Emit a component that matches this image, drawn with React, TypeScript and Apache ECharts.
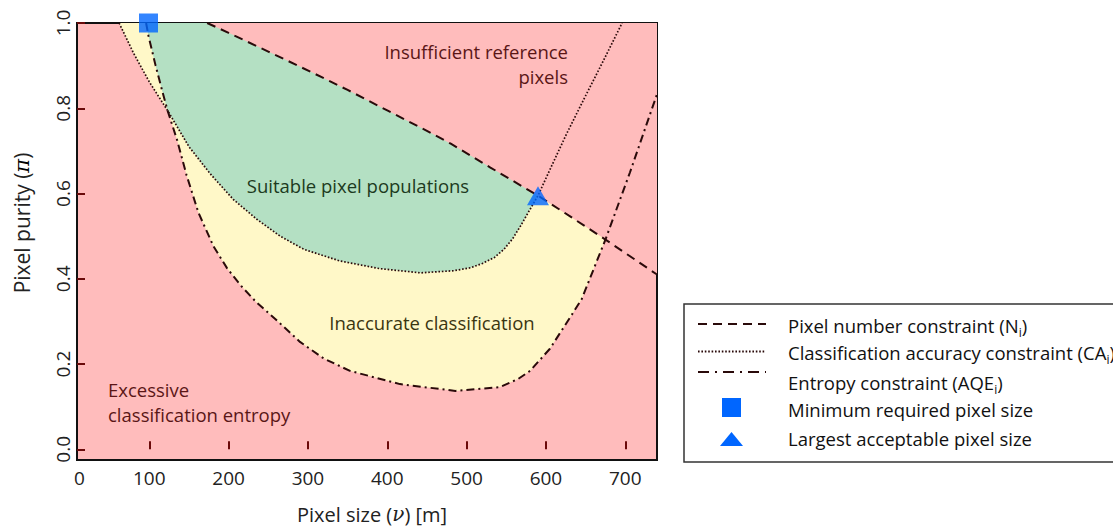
import React, { useEffect, useRef } from "react";
import * as echarts from "echarts";

// ---------- data ----------
const xRange = [8.9, 740];
const yRange = [-0.025, 1.0];
const xTickValues = [100, 200, 300, 400, 500, 600, 700];
const xLabelValues = [12, 100, 200, 300, 400, 500, 600, 700];
const yTickValues = [0, 0.2, 0.4, 0.6, 0.8, 1.0];

// Pixel number constraint (N_i) — dashed
const pixelNumberCurve: number[][] = [
  [173, 1.0], [200, 0.977], [250, 0.933], [303, 0.886], [350, 0.843],
  [400, 0.795], [450, 0.747], [480, 0.717], [530, 0.661], [590, 0.595],
  [630, 0.547], [675, 0.492], [740, 0.41],
];

// Classification accuracy constraint (CA_i) — dotted
const accuracyCurve: number[][] = [
  [62, 1.0], [80, 0.93], [100, 0.862], [123, 0.795], [150, 0.71],
  [177, 0.646], [206, 0.586], [236, 0.539], [265, 0.5], [295, 0.469],
  [340, 0.442], [390, 0.424], [442, 0.414], [484, 0.419], [505, 0.426],
  [520, 0.436], [535, 0.45], [547, 0.469], [558, 0.494], [568, 0.524],
  [580, 0.563], [590, 0.595], [606, 0.66], [626, 0.74], [648, 0.822],
  [672, 0.91], [696, 1.0],
];

// Entropy constraint (AQE_i) — dash-dot
const entropyCurve: number[][] = [
  [96, 1.0], [99, 0.97], [108, 0.9], [116, 0.843], [123, 0.795],
  [135, 0.726], [147, 0.643], [162, 0.555], [181, 0.476], [198, 0.425],
  [215, 0.385], [235, 0.345], [261, 0.302], [290, 0.252], [320, 0.213],
  [353, 0.184], [416, 0.153], [486, 0.137], [542, 0.146], [565, 0.165],
  [580, 0.184], [605, 0.236], [630, 0.308], [645, 0.352], [675, 0.492],
  [706, 0.65], [740, 0.833],
];

const crossingX = 123; // accuracy / entropy crossing on the left arm
const minPixelSize = [[99, 1.0]];
const largestPixelSize = [[590, 0.595]];

// ---------- styling ----------
const PINK = "#ffbcbc";
const GREEN = "#b4e0c3";
const YELLOW = "#fff8c8";
const LINE = "#2a0a0a";
const BLUE = "#0066ff";
const FONT = "Open Sans";
const TOP = 1.1;

const closeTop = (pts: number[][]) => [
  ...pts,
  [pts[pts.length - 1][0], TOP],
  [pts[0][0], TOP],
];

const yellowU = closeTop(entropyCurve);
const greenU = closeTop(accuracyCurve);
const sliver = closeTop([
  ...accuracyCurve.filter((p) => p[0] <= crossingX),
  ...entropyCurve.filter((p) => p[0] <= crossingX).reverse(),
]);
const lastN = pixelNumberCurve[pixelNumberCurve.length - 1];
const pinkTop = [
  ...pixelNumberCurve,
  [xRange[1] + 20, lastN[1]],
  [xRange[1] + 20, TOP],
  [pixelNumberCurve[0][0], TOP],
];

const polygonSeries = (pts: number[][], color: string, z: number) => ({
  type: "custom",
  coordinateSystem: "cartesian2d",
  clip: true,
  silent: true,
  z,
  data: [pts[0]],
  renderItem: (_params: any, api: any) => ({
    type: "polygon",
    shape: { points: pts.map((p) => api.coord(p)) },
    style: { fill: color, stroke: null },
  }),
});

const lineSeries = (name: string, pts: number[][], dash: any, width: number) => ({
  name,
  type: "line",
  data: pts,
  showSymbol: false,
  symbol: "none",
  clip: true,
  z: 5,
  lineStyle: { color: LINE, width, type: dash },
});

const DASH = [9, 6];
const DOT = [1.6, 1.8];
const DASHDOT = [8, 4, 2, 4];

const TXT = 18.5;
const legendY = [324, 351.5, 372];
const legendTextY = [325, 352, 382, 409, 438];
const legendTexts = [
  "{n|Pixel number constraint (N}{s|i}{n|)}",
  "{n|Classification accuracy constraint (CA}{s|i}{n|)}",
  "{n|Entropy constraint (AQE}{s|i}{n|)}",
  "{n|Minimum required pixel size}",
  "{n|Largest acceptable pixel size}",
];
const richLegend = {
  n: { fontSize: TXT, fontFamily: FONT, color: "#111", lineHeight: 26, verticalAlign: "middle" },
  s: { fontSize: 12, fontFamily: FONT, color: "#111", lineHeight: 13, verticalAlign: "bottom" },
};

const option: any = {
  animation: false,
  backgroundColor: "#ffffff",
  grid: {
    left: 77,
    right: 456,
    top: 23,
    bottom: 68,
    show: true,
    backgroundColor: PINK,
    borderColor: "#111",
    borderWidth: 2,
    containLabel: false,
  },
  xAxis: {
    type: "value",
    min: xRange[0],
    max: xRange[1],
    name: "Pixel size ({i|ν}) [m]",
    nameLocation: "middle",
    nameGap: 44,
    nameTextStyle: {
      fontSize: 20,
      fontFamily: FONT,
      color: "#222",
      padding: [0, 0, 0, 10],
      rich: { i: { fontSize: 20, fontFamily: "DejaVu Serif", fontStyle: "italic", color: "#222" } },
    },
    axisLine: { show: false },
    splitLine: { show: false },
    axisTick: { show: true, inside: true, length: 8, customValues: xTickValues, lineStyle: { color: "#6a0a0a", width: 2 } },
    axisLabel: {
      show: true,
      customValues: xLabelValues,
      margin: 8,
      fontSize: 19,
      fontFamily: FONT,
      color: "#222",
      formatter: (v: number) => (v < 50 ? "0" : String(v)),
    },
  },
  yAxis: {
    type: "value",
    min: yRange[0],
    max: yRange[1],
    axisLine: { show: false },
    splitLine: { show: false },
    axisTick: { show: true, inside: true, length: 8, customValues: yTickValues, lineStyle: { color: "#6a0a0a", width: 2 } },
    axisLabel: {
      show: true,
      customValues: yTickValues,
      rotate: 90,
      margin: 5,
      fontSize: 19,
      fontFamily: FONT,
      color: "#222",
      formatter: (v: number) => v.toFixed(1),
    },
  },
  series: [
    polygonSeries(yellowU, YELLOW, 1),
    polygonSeries(greenU, GREEN, 2),
    polygonSeries(sliver, YELLOW, 3),
    polygonSeries(pinkTop, PINK, 4),
    lineSeries("Pixel number constraint", pixelNumberCurve, DASH, 2),
    lineSeries("Classification accuracy constraint", accuracyCurve, DOT, 1.7),
    lineSeries("Entropy constraint", entropyCurve, DASHDOT, 2),
    {
      name: "Minimum required pixel size",
      type: "scatter",
      data: minPixelSize,
      symbol: "rect",
      symbolSize: 19,
      clip: false,
      z: 10,
      itemStyle: { color: BLUE },
    },
    {
      name: "Largest acceptable pixel size",
      type: "scatter",
      data: largestPixelSize,
      symbol: "triangle",
      symbolSize: [22, 19],
      clip: false,
      z: 10,
      itemStyle: { color: BLUE },
    },
  ],
  graphic: [
    {
      type: "text",
      x: 22,
      y: 223,
      rotation: Math.PI / 2,
      z: 20,
      style: {
        text: "{n|Pixel purity (}{i|π}{n|)}",
        align: "center",
        verticalAlign: "middle",
        rich: {
          n: { fontSize: 21, fontFamily: FONT, fill: "#222", color: "#222" },
          i: { fontSize: 21, fontFamily: "DejaVu Serif", fontStyle: "italic", color: "#222" },
        },
      },
    },
    {
      type: "text",
      x: 568,
      y: 39,
      z: 20,
      style: {
        text: "Insufficient reference\npixels",
        align: "right",
        verticalAlign: "top",
        lineHeight: 25,
        fontSize: TXT,
        fontFamily: FONT,
        fill: "#5a1616",
      },
    },
    {
      type: "text",
      x: 358,
      y: 185,
      z: 20,
      style: { text: "Suitable pixel populations", align: "center", verticalAlign: "middle", fontSize: TXT, fontFamily: FONT, fill: "#1c3a20" },
    },
    {
      type: "text",
      x: 432,
      y: 322,
      z: 20,
      style: { text: "Inaccurate classification", align: "center", verticalAlign: "middle", fontSize: TXT, fontFamily: FONT, fill: "#3a3510" },
    },
    {
      type: "text",
      x: 108,
      y: 377,
      z: 20,
      style: {
        text: "Excessive\nclassification entropy",
        align: "left",
        verticalAlign: "top",
        lineHeight: 25,
        fontSize: TXT,
        fontFamily: FONT,
        fill: "#5a1616",
      },
    },
    // legend box
    {
      type: "rect",
      z: 20,
      shape: { x: 684, y: 304, width: 460, height: 158 },
      style: { fill: "#fff", stroke: "#333", lineWidth: 1.5 },
    },
    {
      type: "line",
      z: 21,
      shape: { x1: 698, y1: legendY[0], x2: 766, y2: legendY[0] },
      style: { stroke: LINE, lineWidth: 2, lineDash: DASH },
    },
    {
      type: "line",
      z: 21,
      shape: { x1: 698, y1: legendY[1], x2: 766, y2: legendY[1] },
      style: { stroke: LINE, lineWidth: 1.8, lineDash: DOT },
    },
    {
      type: "line",
      z: 21,
      shape: { x1: 698, y1: legendY[2], x2: 766, y2: legendY[2] },
      style: { stroke: LINE, lineWidth: 2, lineDash: [11, 6, 2, 6] },
    },
    {
      type: "rect",
      z: 21,
      shape: { x: 722, y: 398, width: 19, height: 19 },
      style: { fill: BLUE },
    },
    {
      type: "polygon",
      z: 21,
      shape: { points: [[720, 446], [743, 446], [731.5, 432]] },
      style: { fill: BLUE },
    },
    ...legendTexts.map((t, i) => ({
      type: "text",
      z: 21,
      x: 788,
      y: legendTextY[i],
      style: { text: t, align: "left", verticalAlign: "middle", rich: richLegend, fontSize: TXT, fontFamily: FONT, fill: "#111" },
    })),
  ],
};

export default function App() {
  const ref = useRef<HTMLDivElement>(null);
  useEffect(() => {
    const chart = echarts.init(ref.current as HTMLDivElement, null, { renderer: "svg" });
    chart.setOption(option);
    return () => chart.dispose();
  }, []);
  return (
    <div
      ref={ref}
      style={{ position: "absolute", left: 0, top: 0, width: 1113, height: 529, background: "#fff", overflow: "hidden" }}
    />
  );
}
